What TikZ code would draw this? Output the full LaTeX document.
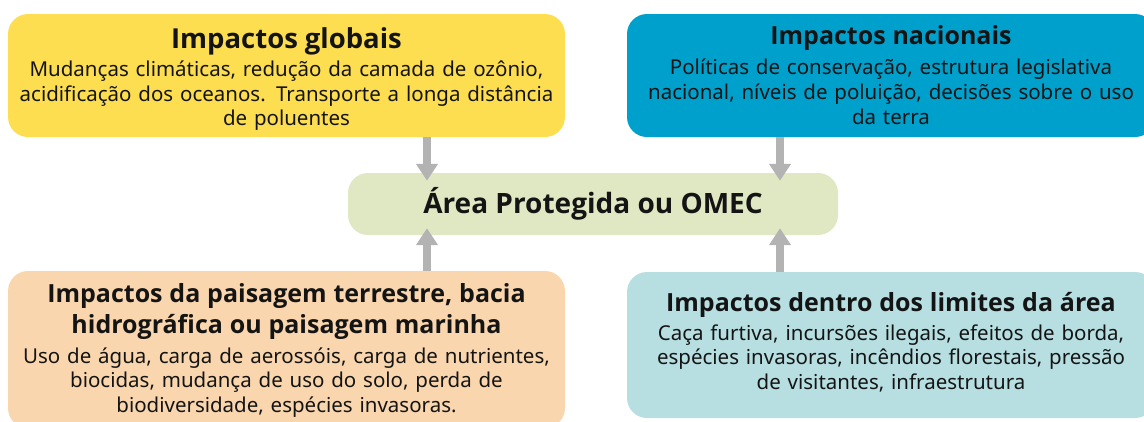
\documentclass[tikz,border=0pt]{standalone}
\usepackage{fontspec}
\setmainfont{Noto Sans}
\newfontfamily\headfont{Open Sans}
\usetikzlibrary{arrows.meta}

\definecolor{globyellow}{HTML}{FEDE51}
\definecolor{natblue}{HTML}{00A0CC}
\definecolor{pagreen}{HTML}{DFE8C3}
\definecolor{landorange}{HTML}{F9D6AE}
\definecolor{sitecyan}{HTML}{B7DFE1}
\definecolor{arrgray}{HTML}{B3B3B3}
\definecolor{inktext}{HTML}{141414}

% title of a box: [room above], size, gap below, text
\newcommand{\boxhead}[4][0pt]{{\fontsize{#2}{31}\headfont\bfseries
    \rule{0pt}{\dimexpr0.76em+#1\relax}#4\par}\vspace{#3}}

\tikzset{
  impact/.style={rounded corners=20pt, inner sep=0pt, align=center, text=inktext,
    font=\fontsize{20.5}{24.5}\selectfont},
  flow/.style={draw=arrgray, line width=8pt, -{Triangle[width=21pt,length=17pt]}}
}

\begin{document}
\begin{tikzpicture}[x=1pt,y=-1pt]
        \useasboundingbox (0,0) rectangle (1144,421);

        % Impact boxes
        \node[impact, fill=globyellow, minimum width=557pt, minimum height=123pt, text width=550pt]
            (glob) at (286.5,75.5) {\boxhead[7pt]{27.5}{4pt}{Impactos globais}
            Mudanças climáticas, redução da camada de ozônio,\\
            acidificação dos oceanos. Transporte a longa distância\\
            de poluentes};
        \node[impact, fill=natblue, minimum width=528pt, minimum height=123pt, text width=520pt,
            font=\fontsize{20.5}{25}\selectfont]
            (nat) at (891,75.5) {\boxhead{25}{5pt}{Impactos nacionais}
            Políticas de conservação, estrutura legislativa\\
            nacional, níveis de poluição, decisões sobre o uso\\
            da terra};
        \node[impact, fill=landorange, minimum width=557pt, minimum height=157pt, text width=550pt]
            (land) at (286.5,349.5) {\boxhead[2pt]{25}{5pt}{Impactos da paisagem terrestre, bacia\\
            hidrográfica ou paisagem marinha}
            Uso de água, carga de aerossóis, carga de nutrientes,\\
            biocidas, mudança de uso do solo, perda de\\
            biodiversidade, espécies invasoras.};
        \node[impact, fill=sitecyan, minimum width=528pt, minimum height=146pt, text width=520pt]
            (site) at (891,345) {\boxhead{25}{4pt}{Impactos dentro dos limites da área}
            Caça furtiva, incursões ilegais, efeitos de borda,\\
            espécies invasoras, incêndios florestais, pressão\\
            de visitantes, infraestrutura\par\vspace{6pt}};

        % Protected area in the middle
        \node[impact, fill=pagreen, minimum width=490pt, minimum height=62pt,
            font=\fontsize{28}{30}\headfont\bfseries] (pa) at (593,204) {Área Protegida ou OMEC};

        % Arrows into the protected area
        \coordinate (lx) at (427,0);
        \coordinate (rx) at (780,0);
        \draw[flow, shorten >=-8pt] (glob.south -| lx) -- (pa.north -| lx);
        \draw[flow, shorten >=-8pt] (nat.south -| rx) -- (pa.north -| rx);
        \draw[flow, shorten >=-7pt] (land.north -| lx) -- (pa.south -| lx);
        \draw[flow, shorten >=-7pt] (site.north -| rx) -- (pa.south -| rx);

\end{tikzpicture}
\end{document}
